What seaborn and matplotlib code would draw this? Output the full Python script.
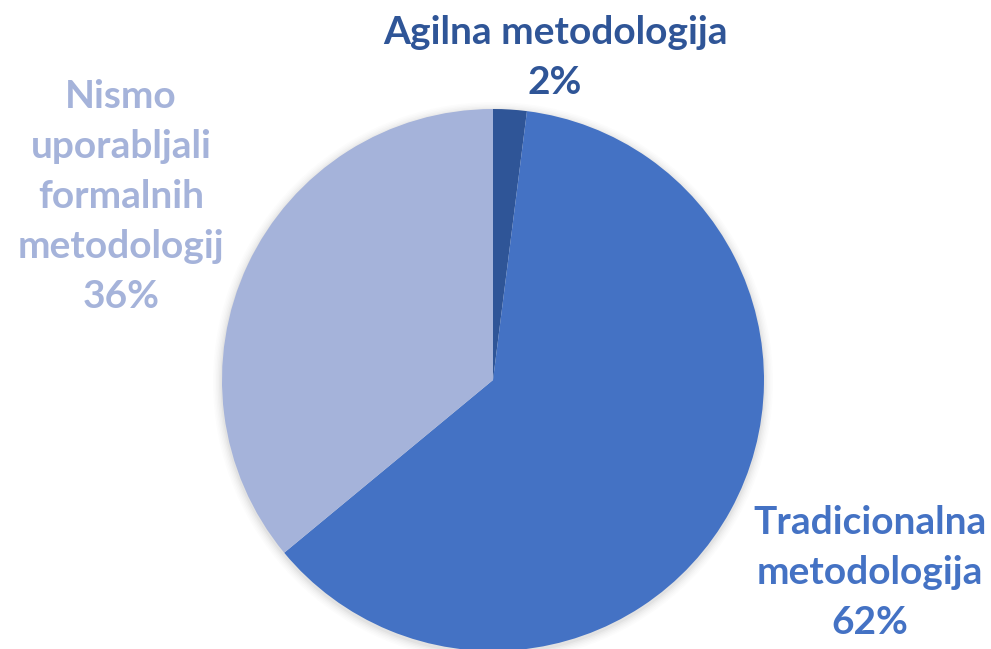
import matplotlib
matplotlib.use("Agg")
import matplotlib.pyplot as plt
import seaborn as sns
from matplotlib.patches import Circle

categories = ["Agilna metodologija", "Tradicionalna metodologija", "Nismo uporabljali formalnih metodologij"]
values = [2, 62, 36]
label_lines = [["Agilna metodologija", "2%"],
               ["Tradicionalna", "metodologija", "62%"],
               ["Nismo", "uporabljali", "formalnih", "metodologij", "36%"]]
colors = ["#2F5597", "#4472C4", "#A5B3DA"]

sns.set_theme(style="white")
plt.rcParams['font.family'] = ['Lato', 'DejaVu Sans']

W, H = 991, 649
fig = plt.figure(figsize=(W / 100, H / 100), dpi=100)
ax = fig.add_axes([0, 0, 1, 1])

cx, cy, r = 493, H - 380, 271

# soft shadow
for i, a in enumerate([0.012, 0.012, 0.015, 0.018, 0.022, 0.03]):
    ax.add_patch(Circle((cx, cy - 2), r + 9 - i * 1.5, color="black", alpha=a, lw=0, zorder=0))

ax.pie(values, colors=colors, startangle=90, counterclock=False,
       radius=r, center=(cx, cy), frame=True,
       wedgeprops=dict(linewidth=0))
ax.set_xlim(0, W)
ax.set_ylim(0, H)
ax.set_aspect("equal")
ax.axis("off")

positions = [(555, 57), (870, 573), (121, 197)]
spacing = 50
for lines, (x, yc), col in zip(label_lines, positions, colors):
    n = len(lines)
    for k, t in enumerate(lines):
        y = yc + (k - (n - 1) / 2) * spacing
        ax.text(x, H - y, t, ha="center", va="center", fontsize=28,
                fontweight="bold", color=col)

fig.savefig("out.png", dpi=100)
